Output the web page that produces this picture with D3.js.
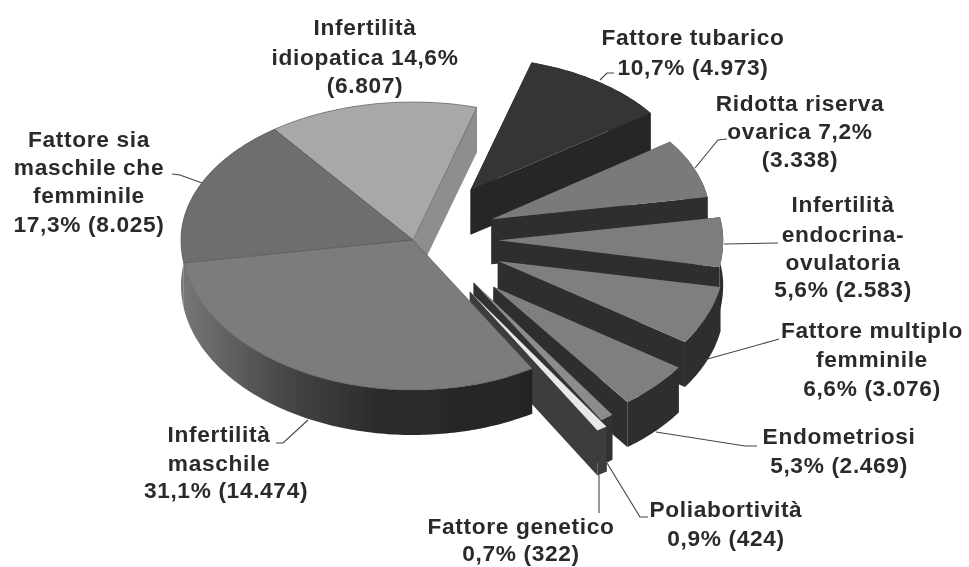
<!DOCTYPE html>
<html>
<head>
<meta charset="utf-8">
<script src="https://cdn.jsdelivr.net/npm/d3@7/dist/d3.min.js"></script>
<style>
html,body{margin:0;padding:0;background:#fff}
svg{display:block}
text{font-family:"Liberation Sans",Arial,sans-serif;font-weight:700;font-size:22.7px;fill:#2b2b2b;text-anchor:middle;letter-spacing:.65px}
</style>
</head>
<body>
<svg id="c" width="969" height="567"></svg>
<script>
// ---- data (clockwise from the tubal slice) ----
const categories = ["Fattore tubarico","Ridotta riserva ovarica","Infertilità endocrina-ovulatoria","Fattore multiplo femminile","Endometriosi","Poliabortività","Fattore genetico","Infertilità maschile","Fattore sia maschile che femminile","Infertilità idiopatica"];
const counts = [4973,3338,2583,3076,2469,424,322,14474,8025,6807];
const labelLines = [
  ["Fattore tubarico","10,7% (4.973)"],
  ["Ridotta riserva","ovarica 7,2%","(3.338)"],
  ["Infertilità","endocrina-","ovulatoria","5,6% (2.583)"],
  ["Fattore multiplo","femminile","6,6% (3.076)"],
  ["Endometriosi","5,3% (2.469)"],
  ["Poliabortività","0,9% (424)"],
  ["Fattore genetico","0,7% (322)"],
  ["Infertilità","maschile","31,1% (14.474)"],
  ["Fattore sia","maschile che","femminile","17,3% (8.025)"],
  ["Infertilità","idiopatica 14,6%","(6.807)"]
];
// ---- styling / layout ----
const topFill  = ["#343434","#7a7a7a","#7d7d7d","#7f7f7f","#7f7f7f","#8c8c8c","#e8e8e8","#7b7b7b","#6e6e6e","#a8a8a8"];
const wallFill = ["#282828","#2e2e2e","#2e2e2e","#2e2e2e","#2e2e2e","#333333","#3c3c3c","url(#rimGrad)","url(#rimGrad)","#8e8e8e"];
const explodeX = [.43,.366,.367,.395,.48,.455,.46,0,0,0];
const explodeY = [.445,.39,.37,.37,.45,.346,.405,0,0,0];
const radiusX  = [.953,.945,.97,.975,.965,1.0,1.07,1,1,1];
const radiusY  = [.96,.97,1,.96,.96,1.1,1.08,1,1,1];
const labelX   = [[693,693],[800,800,800],[843,843,843,843],[872,872,872],[839,839],[726,726],[521,521],[219,219,226],[89,89,89,89],[365,365,365]];
const labelY   = [[45,75],[111,139,167],[212,242,270,297],[338,367,396],[444,473],[517,546],[534,561],[442,471,498],[147,175,203,232],[35,65,93]];
const leaders  = [
  [[600,80],[607,73],[614,73]],
  [[695,168],[718,140],[727,139]],
  [[724,244],[778,243]],
  [[704,360],[772,341],[779,339]],
  [[656,432],[745,446],[757,446]],
  [[607,463],[640,517],[648,517]],
  [[599,475],[599,513]],
  [[308,420],[283,443],[276,443]],
  [[202,183],[180,175],[172,174]]
];
const cx=413, cy=240, rx=232, ryBack=138, ryFront=150, depth=45;
const startDeg=16;

const svg=d3.select("#c");
const defs=svg.append("defs");
const g=defs.append("linearGradient").attr("id","rimGrad").attr("gradientUnits","userSpaceOnUse")
  .attr("x1",180).attr("x2",535).attr("y1",0).attr("y2",0);
[[0,"#777"],[.12,"#646464"],[.3,"#464646"],[.55,"#2c2c2c"],[1,"#242424"]].forEach(s=>g.append("stop").attr("offset",s[0]).attr("stop-color",s[1]));
defs.append("filter").attr("id","soft").append("feGaussianBlur").attr("stdDeviation",.55);
defs.append("filter").attr("id","softT").append("feGaussianBlur").attr("stdDeviation",.3);

const pie=d3.pie().sort(null).startAngle(startDeg*Math.PI/180).endAngle(startDeg*Math.PI/180+2*Math.PI);
const arcs=pie(counts);
const line=d3.line();
const marks=svg.append("g").attr("filter","url(#soft)");

function project(a,i){
  const c=Math.cos(a), s=Math.sin(a);
  return [rx*radiusX[i]*s, -(c>0?ryBack:ryFront)*radiusY[i]*c];
}
// back slices, then the exploded fan, then the large front slice over the fan's inner walls
const order=[9,8,0,1,2,3,4,5,6,7];
order.forEach(i=>{
  const d=arcs[i];
  const mid=(d.startAngle+d.endAngle)/2;
  const off=[rx*explodeX[i]*Math.sin(mid), -(Math.cos(mid)>0?ryBack:ryFront)*explodeY[i]*Math.cos(mid)];
  const ax=cx+off[0], ay=cy+off[1];
  const n=Math.max(4,Math.ceil((d.endAngle-d.startAngle)*60));
  const edge=d3.range(n+1).map(k=>{
    const p=project(d.startAngle+(d.endAngle-d.startAngle)*k/n,i);
    return [ax+p[0],ay+p[1]];
  });
  const down=p=>[p[0],p[1]+depth];
  const sl=marks.append("g").attr("class","slice").datum(categories[i]);
  const wall=wallFill[i];
  const apex=[ax,ay], first=edge[0], last=edge[n];
  if(i!==7 && i!==8){
    sl.append("path").attr("d",line([apex,first,down(first),down(apex)])+"Z").attr("fill",wall);
    sl.append("path").attr("d",line([apex,last,down(last),down(apex)])+"Z").attr("fill",wall);
  }
  sl.append("path").attr("d",line(edge.concat(edge.map(down).reverse()))+"Z").attr("fill",wall);
  sl.append("path").attr("d",line([apex].concat(edge))+"Z").attr("fill",topFill[i]).attr("stroke","#555").attr("stroke-width",i>=7?.6:0);
});

const ann=svg.append("g").attr("filter","url(#softT)");
leaders.forEach(l=>ann.append("path").attr("d",line(l)).attr("fill","none").attr("stroke","#444").attr("stroke-width",1.1));
labelLines.forEach((lines,i)=>{
  lines.forEach((t,j)=>ann.append("text").attr("x",labelX[i][j]).attr("y",labelY[i][j]).text(t));
});
</script>
</body>
</html>
